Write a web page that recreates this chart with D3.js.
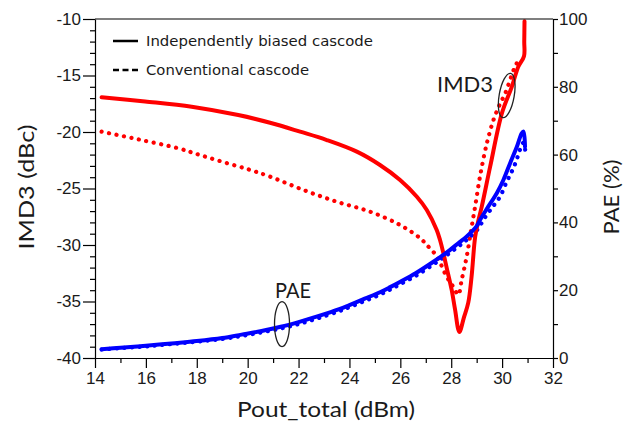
<!DOCTYPE html>
<html>
<head>
<meta charset="utf-8">
<script src="https://cdn.jsdelivr.net/npm/d3@7"></script>
<style>
  html, body { margin: 0; padding: 0; background: #fff; }
  svg { display: block; }
</style>
</head>
<body>
<svg id="chart" width="630" height="426"></svg>
<script>
// Output power sweep (dBm) and measured IMD3 (dBc) / PAE (%) for the two cascode designs
const imdIndepX = [14.26, 15.97, 17.8, 19.63, 20.88, 22.06, 23.11, 24.29, 25.2, 25.99, 26.65, 27.04, 27.43, 27.56, 27.7, 27.82, 28.02, 28.15, 28.32, 28.5, 28.67, 28.8, 28.94, 29.07, 29.2, 29.53, 29.99, 30.38, 30.64, 30.86, 30.87, 30.88];
const imdIndepY = [-16.93, -17.3, -17.76, -18.5, -19.18, -19.97, -20.71, -21.74, -22.92, -24.25, -25.73, -26.9, -28.67, -29.56, -30.8, -32.0, -34.0, -35.7, -37.7, -36.4, -35.1, -32.8, -29.3, -27.8, -26.6, -23.07, -18.35, -16.0, -14.2, -13.3, -12.0, -10.2];

const imdConvX = [14.26, 15.7, 17.27, 18.13, 19.1, 20.09, 20.88, 22.19, 23.5, 24.81, 25.99, 26.78, 27.04, 27.43, 27.82, 28.08, 28.28, 28.41, 28.61, 28.81, 28.94, 29.13, 29.4, 29.66, 29.9, 30.12, 30.51, 30.7];
const imdConvY = [-19.97, -20.65, -21.44, -22.04, -22.7, -23.35, -23.95, -25.13, -26.17, -27.05, -28.23, -29.4, -30.0, -31.0, -32.8, -33.7, -34.4, -33.1, -31.0, -28.3, -26.6, -23.95, -21.0, -18.94, -17.6, -16.6, -14.2, -13.45];

const paeIndepX = [14.26, 15.0, 16.0, 17.0, 18.0, 19.0, 19.76, 20.5, 21.3, 22.0, 22.8, 23.6, 24.0, 24.6, 25.2, 25.6, 26.0, 26.6, 27.3, 27.8, 28.3, 28.6, 29.0, 29.13, 29.4, 29.79, 30.05, 30.31, 30.58, 30.77, 30.84, 30.9];
const paeIndepY = [2.6, 3.0, 3.6, 4.3, 5.0, 5.9, 6.9, 7.9, 9.2, 10.6, 12.4, 14.4, 15.6, 17.5, 19.4, 20.9, 22.5, 25.0, 28.4, 31.0, 34.0, 35.8, 38.9, 40.7, 44.0, 48.6, 52.5, 57.4, 62.3, 66.3, 66.8, 62.3];

const paeConvX = [14.26, 15.0, 16.0, 17.0, 18.0, 19.0, 19.76, 20.5, 21.3, 22.0, 22.8, 23.6, 24.0, 24.6, 25.2, 25.6, 26.0, 26.6, 27.3, 27.8, 28.3, 28.6, 29.0, 29.33, 29.62, 29.92, 30.18, 30.38, 30.55, 30.7, 30.84, 30.92];
const paeConvY = [2.5, 2.9, 3.4, 4.1, 4.8, 5.6, 6.5, 7.5, 8.7, 10.0, 11.8, 13.8, 15.0, 16.8, 18.7, 20.2, 21.8, 24.2, 27.6, 30.2, 33.0, 34.8, 37.6, 41.5, 44.5, 47.6, 52.0, 55.0, 58.0, 61.4, 63.5, 60.5];

const xTicks = [14, 16, 18, 20, 22, 24, 26, 28, 30, 32];
const imdTicks = [-10, -15, -20, -25, -30, -35, -40];
const paeTicks = [0, 20, 40, 60, 80, 100];
const legendLabels = ["Independently biased cascode", "Conventional cascode"];

const svg = d3.select("#chart");
const plotL = 95, plotR = 553, plotT = 19, plotB = 358;

const x = d3.scaleLinear().domain([14, 32]).range([plotL, plotR]);
const yImd = d3.scaleLinear().domain([-40, -10]).range([plotB, plotT]);
const yPae = d3.scaleLinear().domain([0, 100]).range([plotB, plotT]);

const tickFont = "'Liberation Sans', Arial, sans-serif";
const titleFont = "Lato, 'Open Sans', sans-serif";

// Curves
function drawSeries(xs, ys, yScale, color, dotted) {
  const pts = xs.map((v, i) => [v, ys[i]]);
  const line = d3.line()
    .x(d => x(d[0]))
    .y(d => yScale(d[1]))
    .curve(d3.curveCatmullRom.alpha(0.5));
  const p = svg.append("path")
    .datum(pts)
    .attr("d", line)
    .attr("fill", "none")
    .attr("stroke", color)
    .attr("stroke-width", dotted ? 4.2 : 4)
    .attr("stroke-linejoin", "round")
    .attr("stroke-linecap", "round");
  if (dotted) p.attr("stroke-dasharray", "0.1 7.5");
}

drawSeries(imdConvX, imdConvY, yImd, "#ff0000", true);
drawSeries(paeConvX, paeConvY, yPae, "#0000ff", true);
drawSeries(imdIndepX, imdIndepY, yImd, "#ff0000", false);
drawSeries(paeIndepX, paeIndepY, yPae, "#0000ff", false);

// Frame top line
svg.append("line")
  .attr("x1", plotL).attr("x2", plotR)
  .attr("y1", plotT).attr("y2", plotT)
  .attr("stroke", "#000").attr("stroke-width", 1.2);

// Axes
function styleAxis(g) {
  g.select(".domain").attr("stroke", "#000").attr("stroke-width", 1.2);
  g.selectAll(".tick line").attr("stroke", "#000").attr("stroke-width", 1.2);
  g.selectAll(".tick text")
    .attr("fill", "#1a1a1a")
    .style("font-family", tickFont)
    .style("font-size", "17px");
}
function minorOnly(g) {
  g.select(".domain").remove();
  g.selectAll(".tick line").attr("stroke", "#000").attr("stroke-width", 1.2);
}

const xMinor = d3.range(15, 32, 2);
svg.append("g")
  .attr("transform", `translate(0,${plotB})`)
  .call(d3.axisBottom(x).tickValues(xMinor).tickSize(5).tickFormat(""))
  .call(minorOnly);
svg.append("g")
  .attr("transform", `translate(0,${plotB})`)
  .call(d3.axisBottom(x).tickValues(xTicks).tickSize(10).tickSizeOuter(0).tickPadding(4).tickFormat(d => String(d)))
  .call(styleAxis);

const imdMinor = d3.range(-39, -10, 1).filter(v => v % 5 !== 0);
svg.append("g")
  .attr("transform", `translate(${plotL},0)`)
  .call(d3.axisLeft(yImd).tickValues(imdMinor).tickSize(5).tickFormat(""))
  .call(minorOnly);
svg.append("g")
  .attr("transform", `translate(${plotL},0)`)
  .call(d3.axisLeft(yImd).tickValues(imdTicks).tickSize(12).tickSizeOuter(0).tickPadding(2).tickFormat(d => String(d)))
  .call(styleAxis);

const paeMinor = [10, 30, 50, 70, 90];
svg.append("g")
  .attr("transform", `translate(${plotR},0)`)
  .call(d3.axisRight(yPae).tickValues(paeMinor).tickSize(5).tickFormat(""))
  .call(minorOnly);
svg.append("g")
  .attr("transform", `translate(${plotR},0)`)
  .call(d3.axisRight(yPae).tickValues(paeTicks).tickSize(5).tickSizeOuter(0).tickPadding(1).tickFormat(d => String(d)))
  .call(styleAxis);

// Axis titles
function title(text, transform, len) {
  svg.append("text")
    .attr("transform", transform)
    .attr("text-anchor", "middle")
    .attr("textLength", len).attr("lengthAdjust", "spacingAndGlyphs")
    .style("font-family", titleFont).style("font-size", "21px").attr("fill", "#1a1a1a")
    .text(text);
}
title("Pout_total (dBm)", `translate(326,417)`, 178);
title("IMD3 (dBc)", `translate(34,187) rotate(-90)`, 125);
title("PAE (%)", `translate(619,197) rotate(-90)`, 75);

// Legend
const legend = svg.append("g").attr("transform", "translate(113,41)");
legendLabels.forEach((label, i) => {
  const gy = i * 29;
  legend.append("line")
    .attr("x1", 0).attr("x2", 25).attr("y1", gy).attr("y2", gy)
    .attr("stroke", "#000").attr("stroke-width", 2.5)
    .attr("stroke-dasharray", i === 0 ? null : "6 3.5");
  legend.append("text")
    .attr("x", 33).attr("y", gy + 5)
    .attr("textLength", i === 0 ? 227 : 163).attr("lengthAdjust", "spacingAndGlyphs")
    .style("font-family", "'DejaVu Sans', Verdana, sans-serif").style("font-size", "14.5px")
    .attr("fill", "#1a1a1a")
    .text(label);
});

// Curve annotations
function annotate(label, cx, cy, tx, ty, len, angle) {
  svg.append("ellipse")
    .attr("transform", `translate(${cx},${cy}) rotate(${angle})`)
    .attr("rx", 7.5).attr("ry", 22.5)
    .attr("fill", "none").attr("stroke", "#222").attr("stroke-width", 1.3);
  svg.append("text")
    .attr("x", tx).attr("y", ty)
    .attr("textLength", len).attr("lengthAdjust", "spacingAndGlyphs")
    .style("font-family", titleFont).style("font-size", "22px").attr("fill", "#1a1a1a")
    .text(label);
}
annotate("IMD3", x(30.18), yImd(-16.77), 437, 92, 56, 10);
annotate("PAE", x(21.35), yPae(10.0), 275, 298, 36, 0);
</script>
</body>
</html>
